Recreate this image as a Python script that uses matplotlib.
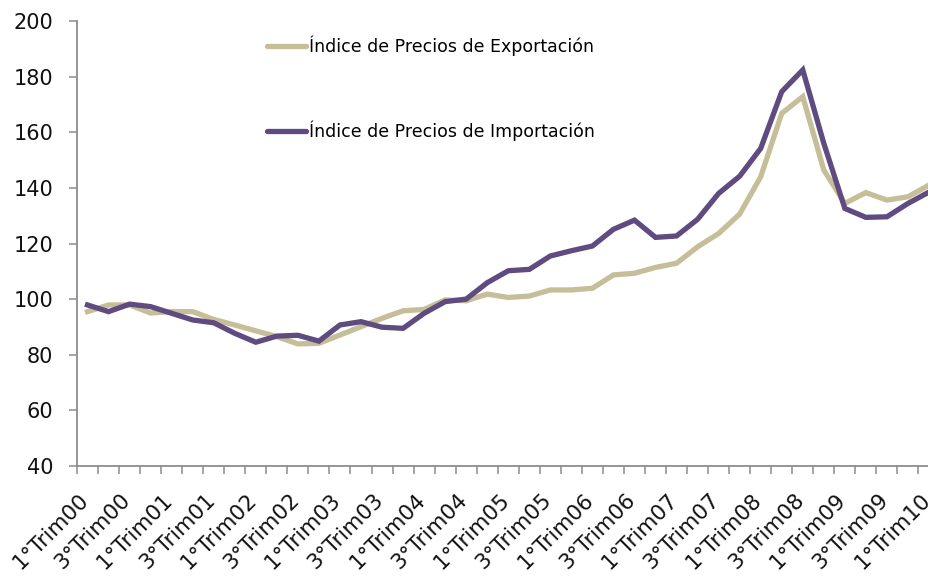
import matplotlib
matplotlib.use("Agg")
import matplotlib.pyplot as plt
from matplotlib.ticker import FixedLocator
from matplotlib.transforms import ScaledTranslation

plt.rcParams['font.family'] = ['DejaVu Sans']

years = ["00", "01", "02", "03", "04", "05", "06", "07", "08", "09", "10"]
quarters = [f"{q}°Trim{y}" for y in years for q in (1, 2, 3, 4)][:41]

exportacion = [95.5, 97.9, 97.9, 95.0, 95.5, 95.5, 92.7, 90.7, 88.6, 86.5,
               83.9, 84.1, 87.1, 90.1, 93.1, 95.8, 96.3, 99.7, 99.4, 101.8,
               100.6, 101.1, 103.3, 103.3, 103.9, 108.7, 109.3, 111.4, 112.9, 118.8,
               123.6, 130.6, 144.0, 166.8, 172.8, 146.4, 134.4, 138.3, 135.6, 136.8,
               141.0]
importacion = [97.9, 95.5, 98.2, 97.3, 94.9, 92.5, 91.5, 87.7, 84.5, 86.7,
               87.0, 84.9, 90.7, 91.9, 89.9, 89.5, 94.9, 99.1, 100.0, 105.9,
               110.2, 110.7, 115.5, 117.4, 119.1, 125.1, 128.4, 122.2, 122.7, 128.7,
               138.0, 144.2, 154.2, 174.6, 182.4, 156.0, 132.6, 129.4, 129.6, 134.4,
               138.5]

labels_exp = "Índice de Precios de Exportación"
labels_imp = "Índice de Precios de Importación"
yticks = [40, 60, 80, 100, 120, 140, 160, 180, 200]

W, H = 929, 580
fig = plt.figure(figsize=(W / 100, H / 100), dpi=100)
ax = fig.add_axes([77 / W, 1 - 466 / H, 1 - 77 / W, (466 - 21) / H])

x = list(range(len(quarters)))
c_exp = "#C6BE98"
c_imp = "#5F4B80"
ax.plot(x, exportacion, color=c_exp, lw=3.8, label=labels_exp,
        solid_joinstyle="miter", clip_on=False)
ax.plot(x, importacion, color=c_imp, lw=3.8, label=labels_imp,
        solid_joinstyle="miter", clip_on=False)

ax.set_xlim(-0.5, 40.0)
ax.set_ylim(40, 200)
ax.set_yticks(yticks)

for s in ("top", "right"):
    ax.spines[s].set_visible(False)
for s in ("left", "bottom"):
    ax.spines[s].set_color("#8C8C8C")
    ax.spines[s].set_linewidth(1.3)

ax.tick_params(axis="y", length=6, width=1.1, color="#8C8C8C", pad=11,
               labelsize=15, labelcolor="#111111")
ax.set_xticks(x[::2])
ax.set_xticklabels(quarters[::2], rotation=45, ha="right", va="center",
                   rotation_mode="anchor", fontsize=15.5, color="#111111")
ax.xaxis.set_minor_locator(FixedLocator([i - 0.5 for i in range(len(quarters) + 1)]))
ax.tick_params(axis="x", which="major", length=0, pad=22)
ax.tick_params(axis="x", which="minor", length=6, width=1.1, color="#8C8C8C")
offset = ScaledTranslation(-2 / 100, 0, fig.dpi_scale_trans)
for lab in ax.get_xticklabels():
    lab.set_transform(lab.get_transform() + offset)

leg = ax.legend(loc="upper left", bbox_to_anchor=(267 / W, 1 - 36 / H),
                bbox_transform=fig.transFigure, frameon=False, fontsize=12.5,
                handlelength=2.25, handletextpad=0.17, labelspacing=3.7,
                borderpad=0, borderaxespad=0)
for line in leg.get_lines():
    line.set_linewidth(3.8)
    line.set_solid_capstyle("round")

fig.savefig("out.png", dpi=100)
